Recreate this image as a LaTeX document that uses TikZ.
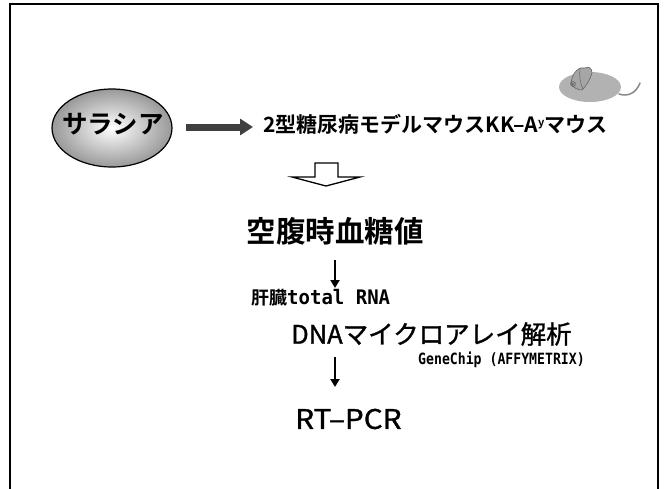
\documentclass[tikz,border=0pt]{standalone}
\usepackage{fontspec}
\usetikzlibrary{shapes.geometric,arrows.meta}
\newfontfamily\jp{Noto Sans CJK JP}
\newfontfamily\jpm{Noto Sans CJK JP}[FakeBold=1.2]
\newfontfamily\jpb{Noto Sans CJK JP Bold}
\newfontfamily\monob{DejaVu Sans Mono Bold}
\newcommand{\narrow}[2]{\scalebox{#1}[1]{#2}}
\tikzset{
  frameline/.style={line width=2.2pt, black},
  thinarrow/.style={line width=2.2pt, -{Triangle[length=8pt,width=9pt]}},
  label/.style={inner sep=0pt, anchor=center},
}
\begin{document}
\begin{tikzpicture}[x=1pt,y=-1pt]
\useasboundingbox (0,0) rectangle (666,488);
% page frame, open at the bottom
\draw[frameline] (10,490) -- (10,4) -- (658,4) -- (658,490);

% substance
\node[ellipse, draw, line width=1.2pt, minimum width=120pt, minimum height=78pt,
      inner color=white, outer color=black!40] (sar) at (112,128) {};
\node[label] (sart) at (113,124) {\jpb\fontsize{25.5}{25.5}\selectfont サラシア};

% model mouse
\node[label, anchor=west] (model) at (263,124)
  {\jpb\fontsize{21}{21}\selectfont 2型糖尿病モデルマウスKK–A\raisebox{0.5ex}{\fontsize{11}{11}\selectfont y}マウス};
\coordinate (a1s) at (186,127);
\coordinate (a1e) at (253,127);
\draw[line width=7pt, black!75, -{Triangle[length=13pt,width=16pt]}] (a1s) -- (a1e);

% mouse drawing
\begin{scope}
  \fill[black!30] (590,87) ellipse [x radius=31, y radius=15];
  \fill[black!30] (562,85) -- (575,76) -- (575,96) -- cycle;
  \draw[black!45, line width=1.6pt, line cap=round] (619,94) .. controls (628,97) and (636,93) .. (640,83);
  \filldraw[fill=black!35, draw=black!60, line width=0.6pt]
    (571,83) .. controls (572,72) and (580,66) .. (585,68)
    .. controls (589,66) and (592,68) .. (592,73)
    .. controls (590,80) and (586,86) .. (582,90) .. controls (578,90) and (573,88) .. (571,83) -- cycle;
  \draw[black!60, line width=0.5pt] (580,69) .. controls (579,76) and (580,83) .. (583,89);
  \draw[black!70, line width=0.5pt] (573,84) circle (2.4);
  \fill[black!70] (573,84) circle (0.9);
\end{scope}

% hollow down arrow
\draw[line width=1.3pt, fill=white]
  (315,163) -- (338,163) -- (338,177) -- (360,177) -- (326,186) -- (292,177) -- (315,177) -- cycle;

% steps
\node[label] (fbg) at (335,231) {\jpb\fontsize{29.5}{29.5}\selectfont 空腹時血糖値};
\node[label, anchor=west] (rna) at (251,298)
  {\jpb\fontsize{18}{18}\selectfont 肝臓\monob\fontsize{20}{20}\selectfont\narrow{0.95}{total RNA}};
\node[label, anchor=west] (dna) at (291,334)
  {\jpm\fontsize{25.5}{25.5}\selectfont DNAマイクロアレイ解析};
\node[label, anchor=west] (chip) at (418,360)
  {\monob\fontsize{15.5}{15.5}\selectfont\narrow{0.85}{GeneChip (AFFYMETRIX)}};
\node[label, anchor=west] (pcr) at (295,419)
  {\jpm\fontsize{27}{27}\selectfont\narrow{1.1}{RT–PCR}};

\draw[thinarrow] (335,260) -- (335,288);
\draw[thinarrow] (335,357) -- (335,387);
\end{tikzpicture}
\end{document}
